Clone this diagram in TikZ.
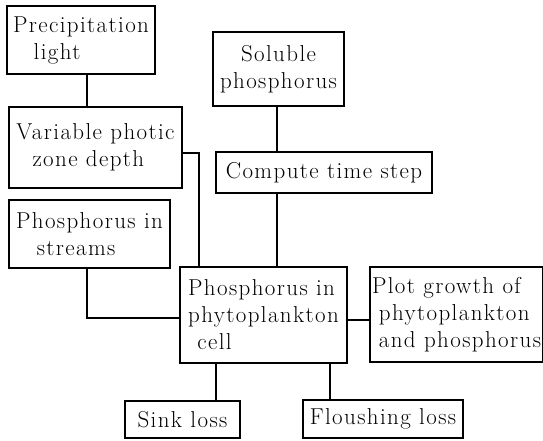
\documentclass[tikz,border=0pt]{standalone}
\usepackage{fontspec}
\setmainfont{Latin Modern Roman}[LetterSpace=6]
\usetikzlibrary{positioning}

\begin{document}
\begin{tikzpicture}[x=1pt,y=-1pt,line width=1.3pt,
    blk/.style={draw,rectangle,align=left,inner sep=2pt,font=\fontsize{23}{27}\selectfont}]

            \useasboundingbox (0,0) rectangle (543,441);

            \node[blk,minimum width=148,minimum height=68] (prec) at (81,40) {Precipitation\\\hspace{0.9em}light};
            \node[blk,minimum width=173,minimum height=81] (var) at (95.5,147.5) {Variable photic\\\hspace{0.7em}zone depth};
            \node[blk,minimum width=131,minimum height=74,align=center] (sol) at (278.5,69) {Soluble\\phosphorus};
            \node[blk,minimum width=216,minimum height=41] (comp) at (324,172.5) {Compute time step};
            \node[blk,minimum width=161,minimum height=68] (stream) at (89.5,234) {Phosphorus in\\\hspace{0.9em}streams};
            \node[blk,minimum width=167,minimum height=96] (cell) at (263.5,315) {Phosphorus in\\phytoplankton\\\hspace{0.4em}cell};
            \node[blk,minimum width=166,minimum height=95] (plot) at (456.5,314.5) {Plot growth of\\\hspace{0.3em}phytoplankton\\\hspace{0.3em}and phosphorus};
            \node[blk,minimum width=115,minimum height=37] (sink) at (182.5,419.5) {Sink loss};
            \node[blk,minimum width=160,minimum height=38] (flush) at (383,419) {Floushing loss};

            \draw ([xshift=6]prec.south) -- ([xshift=6]prec.south |- var.north);
            \draw ([yshift=-5.5]var.east) -| ([xshift=19.5]cell.north west);
            \draw ([xshift=-1.5]sol.south) -- ([xshift=-1.5]sol.south |- comp.north);
            \draw ([xshift=-1.5]sol.south |- comp.south) -- ([xshift=-1.5]sol.south |- cell.north);
            \draw ([xshift=-2.5]stream.south) |- ([yshift=-3]cell.west);
            \draw ([yshift=-5]cell.east) -- ([yshift=-5]cell.east -| plot.west);
            \draw ([xshift=33.5]sink.north) -- ([xshift=33.5]sink.north |- cell.south);
            \draw ([xshift=-53]flush.north) -- ([xshift=-53]flush.north |- cell.south);
        \end{tikzpicture}
\end{document}
